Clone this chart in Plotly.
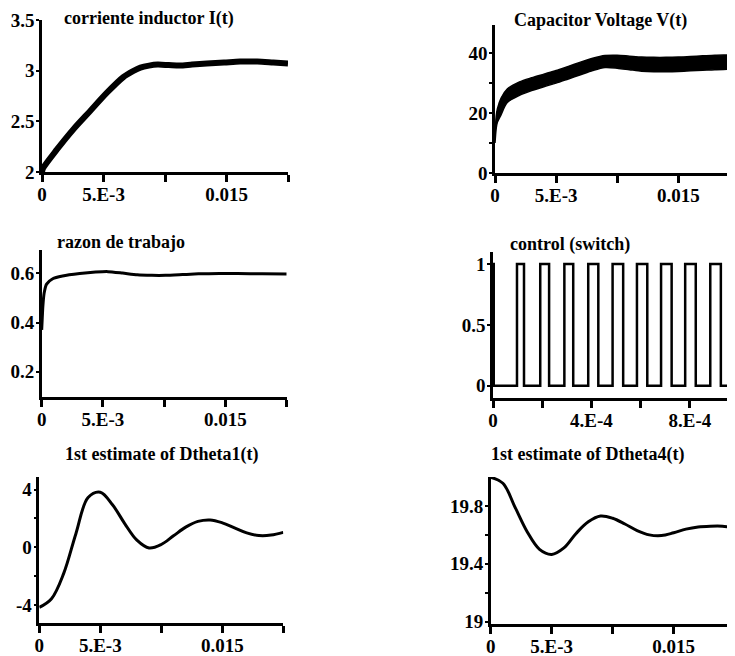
import plotly.graph_objects as go

W, H = 735, 656
OFF = 8  # page body margin of the browser

# ---------------- data ----------------
# Panel 1: corriente inductor I(t)
i_t = [0, 0.0001, 0.0012, 0.00254, 0.0039, 0.0053, 0.0066, 0.0074, 0.008, 0.0087, 0.0094, 0.0103,
       0.0112, 0.0122, 0.0134, 0.0148, 0.0161, 0.0175, 0.0188, 0.02]
i_v = [2.0, 2.04, 2.22, 2.42, 2.60, 2.785, 2.935, 2.995, 3.03, 3.05, 3.06, 3.055,
       3.05, 3.06, 3.07, 3.08, 3.09, 3.09, 3.08, 3.07]

# Panel 2: Capacitor Voltage V(t) (ripple envelope)
v_t = [0, 0.0001, 0.0002, 0.0005, 0.001, 0.002, 0.003, 0.004, 0.005, 0.006, 0.007, 0.008, 0.009,
       0.010, 0.011, 0.012, 0.013, 0.014, 0.015, 0.016, 0.017, 0.018, 0.019, 0.020, 0.021]
v_upper = [12, 19, 21.5, 25, 28, 30.4, 31.8, 33, 34.2, 35.6, 37, 38.3, 39.2,
           39.3, 39.0, 38.7, 38.6, 38.6, 38.7, 38.9, 39.1, 39.3, 39.4, 39.5, 39.5]
v_lower = [10, 15, 17, 19.5, 23.5, 25.9, 27.5, 28.8, 30.0, 31.4, 32.8, 34.2, 35.2,
           35.0, 34.5, 34.0, 33.8, 33.8, 33.9, 34.1, 34.3, 34.5, 34.6, 34.7, 34.7]

# Panel 3: razon de trabajo
d_t = [0, 0.0001, 0.0002, 0.0004, 0.0009, 0.0017, 0.0031, 0.0044, 0.0054, 0.0066, 0.0078,
       0.009, 0.0101, 0.0115, 0.0128, 0.0145, 0.016, 0.018, 0.02]
d_v = [0.37, 0.47, 0.52, 0.556, 0.578, 0.589, 0.599, 0.605, 0.607, 0.601, 0.594,
       0.592, 0.592, 0.595, 0.598, 0.599, 0.599, 0.598, 0.597]

# Panel 4: control (switch) edges
sw_t = [0, 0.03e-4, 0.975e-4, 1.26e-4, 1.92e-4, 2.28e-4, 2.90e-4, 3.26e-4, 3.87e-4, 4.28e-4,
        4.86e-4, 5.29e-4, 5.85e-4, 6.27e-4, 6.83e-4, 7.26e-4, 7.81e-4, 8.24e-4, 8.83e-4,
        9.26e-4, 9.81e-4, 10.3e-4]
sw_v = [1, 0, 1, 0, 1, 0, 1, 0, 1, 0, 1, 0, 1, 0, 1, 0, 1, 0, 1, 0, 1, 0]

# Panel 5: 1st estimate of Dtheta1(t)
th1_t = [0, 0.001, 0.002, 0.003, 0.004, 0.005, 0.006, 0.007, 0.008, 0.009, 0.010,
         0.011, 0.012, 0.013, 0.014, 0.015, 0.016, 0.017, 0.018, 0.019, 0.020]
th1_v = [-4.15, -3.55, -1.8, 0.95, 3.45, 3.82, 2.95, 1.65, 0.5, -0.04, 0.2,
         0.8, 1.4, 1.8, 1.9, 1.7, 1.35, 1.0, 0.82, 0.85, 1.04]

# Panel 6: 1st estimate of Dtheta4(t)
th4_t = [0, 0.001, 0.002, 0.003, 0.004, 0.005, 0.006, 0.007, 0.008, 0.009, 0.010,
         0.011, 0.012, 0.013, 0.014, 0.015, 0.016, 0.017, 0.018, 0.019, 0.020, 0.021]
th4_v = [19.998, 19.957, 19.79, 19.62, 19.50, 19.465, 19.51, 19.61, 19.69, 19.73, 19.715,
         19.675, 19.63, 19.60, 19.595, 19.615, 19.64, 19.655, 19.66, 19.66, 19.65, 19.645]

titles = ["corriente inductor I(t)", "Capacitor Voltage V(t)", "razon de trabajo",
          "control (switch)", "1st estimate of Dtheta1(t)", "1st estimate of Dtheta4(t)"]

x_ticks_time = [0, 0.005, 0.01, 0.015, 0.02]
x_text_time = ["0", "5.E-3", "", "0.015", ""]
x_ticks_sw = [0, 2e-4, 4e-4, 6e-4, 8e-4, 1e-3]
x_text_sw = ["0", "", "4.E-4", "", "8.E-4", ""]

# ---------------- layout helpers ----------------
FONT = "Liberation Serif"


def px_x(p):
    return min(1.0, (p - OFF) / W)


def px_y(p):
    return 1 - (p - OFF) / H


# pixel boxes (window coordinates) and axis ranges
panels = [
    dict(x=(42, 288), y=(20, 172), xr=[0, 0.02], yr=[2, 3.5],
         xt=x_ticks_time, xtt=x_text_time, yt=[2, 2.5, 3, 3.5], ytt=["2", "2.5", "3", "3.5"], ym=[]),
    dict(x=(495, 743), y=(25, 173), xr=[0, 0.0203], yr=[0, 49.4],
         xt=x_ticks_time, xtt=x_text_time, yt=[0, 20, 40], ytt=["0", "20", "40"], ym=[10, 30]),
    dict(x=(41.7, 286.7), y=(250, 397), xr=[0, 0.02], yr=[0.097, 0.695],
         xt=x_ticks_time, xtt=x_text_time, yt=[0.2, 0.4, 0.6], ytt=["0.2", "0.4", "0.6"], ym=[]),
    dict(x=(493, 743), y=(252, 398), xr=[0, 10.16e-4], yr=[-0.101, 1.099],
         xt=x_ticks_sw, xtt=x_text_sw, yt=[0, 0.5, 1], ytt=["0", "0.5", "1"], ym=[]),
    dict(x=(39.3, 283.3), y=(477, 623), xr=[0, 0.02], yr=[-5.23, 4.87],
         xt=x_ticks_time, xtt=x_text_time, yt=[-4, 0, 4], ytt=["-4", "0", "4"], ym=[-2, 2]),
    dict(x=(490.7, 743), y=(477, 624), xr=[0, 0.02068], yr=[18.984, 20.0],
         xt=x_ticks_time, xtt=x_text_time, yt=[19, 19.4, 19.8], ytt=["19", "19.4", "19.8"], ym=[19.2, 19.6]),
]

title_pos = [(149, 19), (600, 21), (121, 242), (570, 244), (161, 454), (587, 454)]

fig = go.Figure()

# traces
fig.add_trace(go.Scatter(x=i_t, y=i_v, mode="lines", line=dict(color="black", width=6, shape="spline", smoothing=0.8),
                         xaxis="x", yaxis="y"))
fig.add_trace(go.Scatter(x=v_t, y=v_lower, mode="lines", line=dict(color="black", width=1.5, shape="spline", smoothing=0.8),
                         xaxis="x2", yaxis="y2"))
fig.add_trace(go.Scatter(x=v_t, y=v_upper, mode="lines", fill="tonexty", fillcolor="black",
                         line=dict(color="black", width=1.5, shape="spline", smoothing=0.8),
                         xaxis="x2", yaxis="y2"))
fig.add_trace(go.Scatter(x=d_t, y=d_v, mode="lines", line=dict(color="black", width=3, shape="spline", smoothing=0.6),
                         xaxis="x3", yaxis="y3"))
fig.add_trace(go.Scatter(x=sw_t, y=sw_v, mode="lines", line=dict(color="black", width=2.5, shape="hv"),
                         xaxis="x4", yaxis="y4"))
fig.add_trace(go.Scatter(x=th1_t, y=th1_v, mode="lines", line=dict(color="black", width=3, shape="spline", smoothing=1.0),
                         xaxis="x5", yaxis="y5"))
fig.add_trace(go.Scatter(x=th4_t, y=th4_v, mode="lines", line=dict(color="black", width=3, shape="spline", smoothing=1.0),
                         xaxis="x6", yaxis="y6"))

tickfont = dict(family=FONT, size=19, color="black", weight="bold")
layout = dict(width=W, height=H, margin=dict(l=0, r=0, t=0, b=0, autoexpand=False), showlegend=False,
              plot_bgcolor="white", paper_bgcolor="white")

for k, p in enumerate(panels):
    n = "" if k == 0 else str(k + 1)
    xa = dict(domain=[px_x(p["x"][0]), px_x(p["x"][1])], range=p["xr"], anchor="y" + n,
              showline=True, linecolor="black", linewidth=2.5, showgrid=False, zeroline=False,
              ticks="outside", ticklen=7, tickwidth=2.5, tickcolor="black", automargin=False,
              ticklabelstandoff=-4,
              tickmode="array", tickvals=p["xt"], ticktext=p["xtt"], tickfont=tickfont, fixedrange=True)
    ya = dict(domain=[px_y(p["y"][1]), px_y(p["y"][0])], range=p["yr"], anchor="x" + n,
              showline=True, linecolor="black", linewidth=2.5, showgrid=False, zeroline=False,
              ticks="outside", ticklen=3, tickwidth=2, tickcolor="black", automargin=False,
              ticklabelstandoff=-2,
              tickmode="array", tickvals=p["yt"], ticktext=p["ytt"], tickfont=tickfont, fixedrange=True)
    if p["ym"]:
        ya["minor"] = dict(tickmode="array", tickvals=p["ym"], ticks="outside", ticklen=3,
                           tickwidth=2, tickcolor="black", showgrid=False)
    layout["xaxis" + n] = xa
    layout["yaxis" + n] = ya

annotations = []
for (cx, cy), t in zip(title_pos, titles):
    annotations.append(dict(x=px_x(cx), y=px_y(cy), xref="paper", yref="paper", text=t,
                            showarrow=False, xanchor="center", yanchor="middle",
                            font=dict(family=FONT, size=18, color="black", weight="bold")))
layout["annotations"] = annotations

fig.update_layout(**layout)
fig.write_html("out.html")
